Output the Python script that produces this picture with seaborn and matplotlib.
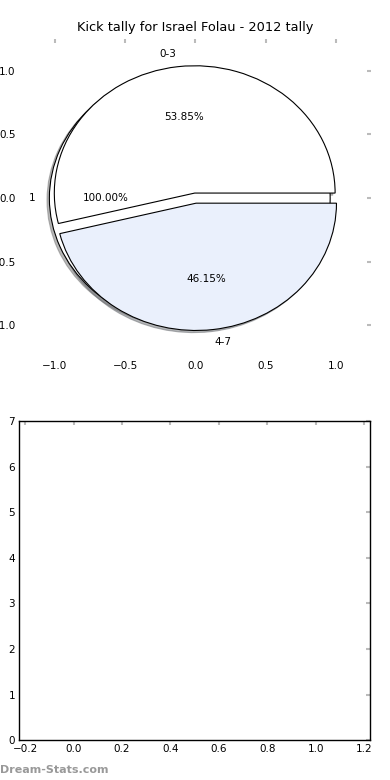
import matplotlib
matplotlib.use("Agg")
import matplotlib.pyplot as plt
import seaborn as sns

# --- dados ---
titulo = "Kick tally for Israel Folau - 2012 tally"
total_labels = ["1"]
total_values = [1]
kick_labels = ["0-3", "4-7"]
kick_values = [7, 6]
kick_colors = ["#FFFFFF", "#EAF0FC"]
pie_ticks = [-1.0, -0.5, 0.0, 0.5, 1.0]
bar_xticks = [-0.2, 0.0, 0.2, 0.4, 0.6, 0.8, 1.0, 1.2]
bar_yticks = [0, 1, 2, 3, 4, 5, 6, 7]

sns.set_style("white")
plt.rcParams["font.family"] = ["DejaVu Sans"]
plt.rcParams["axes.unicode_minus"] = True
plt.rcParams["text.color"] = "black"
plt.rcParams["xtick.labelcolor"] = "black"
plt.rcParams["ytick.labelcolor"] = "black"

fig = plt.figure(figsize=(3.9, 7.8), dpi=100)
ax1 = fig.add_axes([0.051, 0.542, 0.900, 0.408])
ax2 = fig.add_axes([0.049, 0.051, 0.900, 0.409])

sombra = {"ox": -0.012, "oy": -0.012, "shade": 0.55}

# pizza de fundo (total) e pizza por faixa de chute
ax1.pie(total_values, labels=total_labels, colors=["#FFFFFF"], autopct="%1.2f%%",
        explode=[0.04], shadow=sombra,
        wedgeprops={"edgecolor": "black", "linewidth": 0.8},
        textprops={"fontsize": 7.5, "color": "black"})
ax1.pie(kick_values, labels=kick_labels, colors=kick_colors, autopct="%1.2f%%",
        explode=(0.04, 0.04), shadow=sombra,
        wedgeprops={"edgecolor": "black", "linewidth": 0.8},
        textprops={"fontsize": 7.5, "color": "black"})
ax1.set_aspect("auto")
ax1.set_xlim(-1.25, 1.25)
ax1.set_ylim(-1.25, 1.25)
ax1.set_frame_on(False)
ax1.set_xticks(pie_ticks)
ax1.set_yticks(pie_ticks)
ax1.set_title(titulo, fontsize=9.3, pad=6, color="black")

for ax in (ax1, ax2):
    ax.tick_params(direction="in", length=2.8, width=1.5, color="#BBBBBB",
                   labelsize=7.5, top=True, right=True, pad=3)

ax2.set_xlim(-0.225, 1.225)
ax2.set_ylim(0, 7)
ax2.set_xticks(bar_xticks)
ax2.set_yticks(bar_yticks)
for s in ax2.spines.values():
    s.set_color("black")
    s.set_linewidth(1.0)

fig.text(0.0, 0.006, "Dream-Stats.com", fontsize=8, color="#999999",
         fontweight="bold", ha="left", va="bottom")

fig.savefig("out.png", dpi=100)
